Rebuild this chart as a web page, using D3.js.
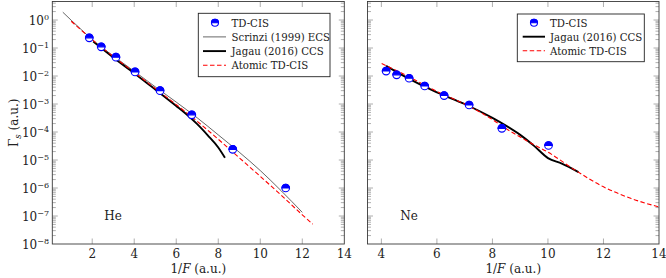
<!DOCTYPE html>
<html><head><meta charset="utf-8">
<script src="https://cdn.jsdelivr.net/npm/d3@7"></script>
<style>
body{margin:0;background:#fff;}
svg text{font-family:"DejaVu Serif","Liberation Serif",serif;}
</style></head>
<body><svg id="c" width="666" height="278"></svg>
<script>
// ---------- data ----------
const heTdcisX = [1.86, 2.43, 3.13, 4.04, 5.23, 6.74, 8.69, 11.21];
const heTdcisY = [0.23, 0.11, 0.047, 0.014, 0.0030, 4.1e-4, 2.4e-5, 1.0e-6];
const heScrinziX = [0.6, 1, 1.5, 2, 3, 4, 5, 6, 7, 8, 9, 10, 11, 12];
const heScrinziY = [1.9, 0.98, 0.44, 0.2, 0.052, 0.0148, 0.0041, 1.17e-3, 3.2e-4, 7.9e-5, 1.9e-5, 4.2e-6, 7.9e-7, 1.35e-7];
const heJagauX = [2.05, 3, 4, 5, 6, 6.5, 7, 7.5, 8, 8.32];
const heJagauY = [0.17, 0.046, 0.0126, 3.3e-3, 8.5e-4, 4.2e-4, 1.9e-4, 7.6e-5, 2.8e-5, 1.2e-5];
const heAtomicX = [1, 1.5, 2, 3, 4, 5, 6, 7, 8, 9, 10, 11, 12, 12.5];
const heAtomicY = [0.9, 0.42, 0.2, 0.05, 0.0135, 3.6e-3, 9.5e-4, 2.4e-4, 5.5e-5, 1.2e-5, 2.6e-6, 5.5e-7, 1.1e-7, 5.1e-8];

const neTdcisX = [4.17, 4.55, 5.0, 5.56, 6.26, 7.16, 8.34, 10.02];
const neTdcisY = [0.015, 0.011, 0.0083, 0.0044, 0.0020, 9.2e-4, 1.35e-4, 3.3e-5];
const neJagauX = [4.17, 5, 6, 7, 8, 8.5, 9, 9.5, 10, 10.5, 11.1];
const neJagauY = [0.023, 7.9e-3, 2.6e-3, 1.0e-3, 3.2e-4, 1.66e-4, 7.9e-5, 3.2e-5, 1.17e-5, 7.4e-6, 3.7e-6];
const neAtomicX = [4.01, 5, 6, 7, 8, 8.5, 9, 9.5, 10, 11, 12, 13, 14];
const neAtomicY = [0.028, 9.3e-3, 2.8e-3, 1.0e-3, 2.8e-4, 1.3e-4, 6.6e-5, 3.5e-5, 1.9e-5, 4.2e-6, 1.1e-6, 4.2e-7, 2.1e-7];

const xTicks = [2, 4, 6, 8, 10, 12, 14];
const yExponents = [0, -1, -2, -3, -4, -5, -6, -7, -8];
const legendHe = ["TD-CIS", "Scrinzi (1999) ECS", "Jagau (2016) CCS", "Atomic TD-CIS"];
const legendNe = ["TD-CIS", "Jagau (2016) CCS", "Atomic TD-CIS"];

// ---------- drawing ----------
const FONT = "'DejaVu Serif', 'Liberation Serif', serif";
const svg = d3.select("#c").attr("font-family", FONT);
const yTop = 1.5, yBot = 244;
const y = d3.scaleLog().domain([1e-8, Math.pow(10, 18.5/28)]).range([yBot, yTop]);
const blue = "#0000ff", red = "#ff0000";
const zip = (xs, ys) => xs.map((v, i) => [v, ys[i]]);

function marker(g, cx, cy, r) {
  g.append("circle").attr("cx", cx).attr("cy", cy).attr("r", r)
    .attr("fill", "#fff").attr("stroke", blue).attr("stroke-width", 1.1);
  g.append("path")
    .attr("d", `M${cx - r},${cy} A${r},${r} 0 0 1 ${cx + r},${cy} Z`)
    .attr("fill", blue).attr("stroke", blue).attr("stroke-width", 1.1);
}

function panel(opts) {
  const x = d3.scaleLinear().domain(opts.xdom).range(opts.xr);
  const g = svg.append("g");
  const x0 = opts.xr[0], x1 = opts.xr[1];
  const clipId = "clip" + Math.round(x0);
  svg.append("clipPath").attr("id", clipId).append("rect")
    .attr("x", x0).attr("y", yTop).attr("width", x1 - x0).attr("height", yBot - yTop);

  // ticks
  const tg = g.append("g").attr("stroke", "#9a9a9a").attr("stroke-width", 0.8);
  xTicks.forEach(t => {
    const px = x(t);
    if (px < x0 + 0.5 || px > x1 - 0.5) return;
    tg.append("line").attr("x1", px).attr("x2", px).attr("y1", yBot).attr("y2", yBot - 5.5);
    tg.append("line").attr("x1", px).attr("x2", px).attr("y1", yTop).attr("y2", yTop + 5.5);
  });
  for (let d = -8; d <= 0; d++) {
    for (let k = 1; k <= 9; k++) {
      const v = k * Math.pow(10, d);
      if (v > y.domain()[1] || v < 1e-8) continue;
      if (k === 1 && d === -8) continue;
      const py = y(v);
      const len = k === 1 ? 5.5 : 3.5;
      tg.append("line").attr("x1", x0).attr("x2", x0 + len).attr("y1", py).attr("y2", py);
      tg.append("line").attr("x1", x1).attr("x2", x1 - len).attr("y1", py).attr("y2", py);
    }
  }

  // x tick labels
  const xl = g.append("g").attr("font-size", 12).attr("fill", "#222").attr("text-anchor", "middle");
  xTicks.forEach(t => {
    if (t < opts.xdom[0] || t > opts.xdom[1]) return;
    xl.append("text").attr("x", x(t)).attr("y", 257.5).text(t);
  });

  // series
  const line = d3.line().x(d => x(d[0])).y(d => y(d[1])).curve(d3.curveMonotoneX);
  const sg = g.append("g").attr("clip-path", `url(#${clipId})`).attr("fill", "none");
  opts.series.forEach(s => {
    sg.append("path").attr("d", line(s.data)).attr("stroke", s.color)
      .attr("stroke-width", s.width).attr("stroke-dasharray", s.dash || null)
      .attr("stroke-linejoin", "round");
  });
  const mg = g.append("g");
  opts.points.forEach(p => marker(mg, x(p[0]), y(p[1]), 3.8));

  // frame
  g.append("rect").attr("x", x0).attr("y", yTop).attr("width", x1 - x0).attr("height", yBot - yTop)
    .attr("fill", "none").attr("stroke", "#3a3a3a").attr("stroke-width", 0.9);

  // x label
  const xt = g.append("text").attr("x", (x0 + x1) / 2).attr("y", 272.5)
    .attr("text-anchor", "middle").attr("font-size", 12).attr("fill", "#222");
  xt.append("tspan").text("1/");
  xt.append("tspan").attr("font-style", "italic").text("F");
  xt.append("tspan").text(" (a.u.)");

  // element label
  g.append("text").attr("x", opts.labelX).attr("y", 220).attr("text-anchor", "middle")
    .attr("font-size", 12).attr("fill", "#222").text(opts.label);

  // legend
  const L = opts.legend;
  const lg = g.append("g");
  lg.append("rect").attr("x", L.x).attr("y", L.y).attr("width", L.w).attr("height", L.h)
    .attr("fill", "#fff").attr("stroke", "#222").attr("stroke-width", 0.9);
  L.items.forEach((it, i) => {
    const ry = L.row0 + i * L.dy;
    if (it.type === "marker") marker(lg, L.mx, ry, 3.5);
    else lg.append("line").attr("x1", L.lx0).attr("x2", L.lx1).attr("y1", ry).attr("y2", ry)
      .attr("stroke", it.color).attr("stroke-width", it.width).attr("stroke-dasharray", it.dash || null);
    lg.append("text").attr("x", L.tx).attr("y", ry + 3.8).attr("font-size", 10.2).attr("fill", "#222").text(it.label);
  });
}

// y tick labels (left panel)
const yl = svg.append("g").attr("font-size", 12).attr("fill", "#222").attr("text-anchor", "end");
yExponents.forEach(e => {
  const t = yl.append("text").attr("x", 49).attr("y", y(Math.pow(10, e)) + 4.5);
  t.append("tspan").text("10");
  t.append("tspan").attr("font-size", 8).attr("dy", -5).text(e === 0 ? "0" : "\u2212" + (-e));
});
// y label
const ylab = svg.append("text").attr("transform", `translate(18,${(yTop + yBot) / 2}) rotate(-90)`)
  .attr("text-anchor", "middle").attr("font-size", 12).attr("fill", "#222");
ylab.append("tspan").text("\u0393");
ylab.append("tspan").attr("font-style", "italic").attr("font-size", 8.5).attr("dy", 2.5).text("s");
ylab.append("tspan").attr("dy", -2.5).text(" (a.u.)");

panel({
  xdom: [0.1, 14], xr: [52.3, 344.3],
  series: [
    {data: zip(heScrinziX, heScrinziY), color: "#000", width: 0.6},
    {data: zip(heJagauX, heJagauY), color: "#000", width: 1.9},
    {data: zip(heAtomicX, heAtomicY), color: red, width: 1.1, dash: "4.5,2.5"}
  ],
  points: zip(heTdcisX, heTdcisY),
  label: "He", labelX: 113,
  legend: {x: 198.3, y: 13.3, w: 131.7, h: 63.4, row0: 22.7, dy: 14.2, mx: 215, lx0: 203, lx1: 226, tx: 231.5,
    items: [
      {type: "marker", label: legendHe[0]},
      {color: "#000", width: 0.6, label: legendHe[1]},
      {color: "#000", width: 1.9, label: legendHe[2]},
      {color: red, width: 1.1, dash: "4.5,2.5", label: legendHe[3]}
    ]}
});

panel({
  xdom: [3.5, 14], xr: [367.5, 659],
  series: [
    {data: zip(neJagauX, neJagauY), color: "#000", width: 1.9},
    {data: zip(neAtomicX, neAtomicY), color: red, width: 1.1, dash: "4.5,2.5"}
  ],
  points: zip(neTdcisX, neTdcisY),
  label: "Ne", labelX: 409,
  legend: {x: 517.3, y: 14, w: 127, h: 47.7, row0: 22.7, dy: 14, mx: 534, lx0: 522.7, lx1: 545, tx: 550,
    items: [
      {type: "marker", label: legendNe[0]},
      {color: "#000", width: 1.9, label: legendNe[1]},
      {color: red, width: 1.1, dash: "4.5,2.5", label: legendNe[2]}
    ]}
});
</script>
</body></html>
